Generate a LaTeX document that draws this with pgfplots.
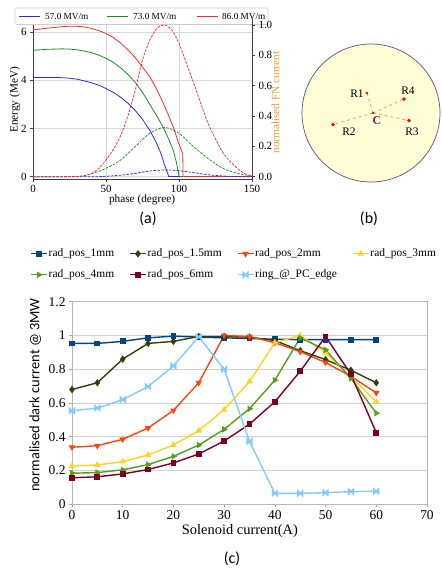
\documentclass[border=0pt]{standalone}
\usepackage{fontspec}
\setmainfont{Liberation Serif}
\newfontfamily\carlito{Carlito}
\usepackage{pgfplots}
\pgfplotsset{compat=1.18}
\definecolor{mblue}{RGB}{40,40,255}
\definecolor{mgreen}{RGB}{30,140,30}
\definecolor{mred}{RGB}{255,40,40}
\definecolor{fnorange}{HTML}{F39A32}
\definecolor{cA}{HTML}{004586}
\definecolor{cB}{HTML}{314004}
\definecolor{cC}{HTML}{FF420E}
\definecolor{cD}{HTML}{FFD320}
\definecolor{cE}{HTML}{579D1C}
\definecolor{cF}{HTML}{7E0021}
\definecolor{cG}{HTML}{83CAFF}
\definecolor{circfill}{HTML}{FFFDD6}
\definecolor{circdraw}{HTML}{6B4E7A}
\definecolor{dashor}{HTML}{F5A040}
\definecolor{cpurple}{HTML}{7A2050}
\pgfdeclareplotmark{bowtie}{%
  \pgfpathmoveto{\pgfqpoint{-\pgfplotmarksize}{\pgfplotmarksize}}%
  \pgfpathlineto{\pgfqpoint{0pt}{0pt}}%
  \pgfpathlineto{\pgfqpoint{-\pgfplotmarksize}{-\pgfplotmarksize}}%
  \pgfpathclose
  \pgfpathmoveto{\pgfqpoint{\pgfplotmarksize}{\pgfplotmarksize}}%
  \pgfpathlineto{\pgfqpoint{0pt}{0pt}}%
  \pgfpathlineto{\pgfqpoint{\pgfplotmarksize}{-\pgfplotmarksize}}%
  \pgfpathclose
  \pgfusepathqfillstroke}

\begin{document}
\begin{tikzpicture}
\path[use as bounding box] (0,0) rectangle (442bp,-568bp);

% ---------------- panel (a): energy ----------------
\begin{axis}[
  scale only axis, width=219bp, height=160bp,
  at={(33bp,-179bp)}, anchor=south west,
  xmin=0, xmax=150, ymin=-0.1, ymax=6.55,
  xtick={0,50,100,150}, ytick={0,2,4,6},
  xtick pos=left, ytick pos=left,
  tick align=outside, major tick length=3bp,
  grid=major, grid style={black!15, line width=0.5bp},
  axis line style={black!75, line width=0.6bp},
  tick style={black!75, line width=0.6bp},
  /pgf/number format/assume math mode=true,
  tick label style={font=\fontsize{11}{12}\selectfont},
  label style={font=\fontsize{11.3}{12}\selectfont},
  xlabel={phase (degree)}, ylabel={Energy (MeV)},
  xlabel style={at={(axis description cs:0.498,-0.131)}, anchor=center},
  ylabel style={at={(axis description cs:-0.082,0.494)}, anchor=center},
  every axis plot/.append style={line width=0.8bp},
]
\addplot[mblue, no markers] coordinates {
(0,4.12) (5,4.12) (10,4.12) (15,4.12) (20,4.11) (25,4.09) (30,4.05) (35,3.98)
(40,3.9) (45,3.8) (50,3.66) (55,3.5) (60,3.3) (65,3.05) (70,2.75) (75,2.38)
(80,1.92) (85,1.35) (88,0.9) (90,0.5) (92,0.18) (93,0) (150,0)};
\addplot[mgreen, no markers] coordinates {
(0,5.25) (5,5.27) (10,5.29) (15,5.3) (20,5.31) (25,5.3) (30,5.27) (35,5.22)
(40,5.15) (45,5.05) (50,4.92) (55,4.75) (60,4.52) (65,4.25) (70,3.92) (75,3.5)
(80,3.0) (85,2.5) (90,1.95) (93,1.55) (96,1.1) (98,0.65) (99.5,0.2) (100,0) (150,0)};
\addplot[mred, no markers] coordinates {
(0,6.1) (5,6.13) (10,6.17) (15,6.2) (20,6.23) (25,6.25) (30,6.25) (35,6.22)
(40,6.16) (45,6.07) (50,5.95) (55,5.78) (60,5.55) (65,5.27) (70,4.95) (75,4.55)
(80,4.15) (85,3.6) (90,2.95) (96,2.08) (100,1.35) (102.6,0.95) (102.8,0) (150,0)};
\end{axis}

% ---------------- panel (b), legend (a) and captions (overlay in pixel units) ----------------
\begin{axis}[
  scale only axis, width=442bp, height=568bp,
  at={(0bp,-568bp)}, anchor=south west,
  xmin=0, xmax=442, ymin=0, ymax=568, y dir=reverse,
  hide axis, clip=false,
]
% legend of (a)
\draw[black!20, fill=white, rounded corners=1.5bp, line width=0.6bp]
  (axis cs:15,8) rectangle (axis cs:268,24.5);
\draw[mblue, line width=0.9bp] (axis cs:19,16.2) -- (axis cs:40,16.2);
\draw[mgreen, line width=0.9bp] (axis cs:107,16.2) -- (axis cs:128,16.2);
\draw[mred, line width=0.9bp] (axis cs:197,16.2) -- (axis cs:218,16.2);
\node[anchor=west, inner sep=0pt, font=\fontsize{9.3}{10}\selectfont] at (axis cs:45,16.2) {57.0 MV/m};
\node[anchor=west, inner sep=0pt, font=\fontsize{9.3}{10}\selectfont] at (axis cs:133,16.2) {73.0 MV/m};
\node[anchor=west, inner sep=0pt, font=\fontsize{9.3}{10}\selectfont] at (axis cs:222,16.2) {86.0 MV/m};
% panel (b)
\draw[circdraw, fill=circfill, line width=0.7bp] (axis cs:371,113) circle[radius=69bp];
\addplot[dashor, dashed, line width=0.8bp, no markers] coordinates {(373,113) (367,93)};
\addplot[dashor, dashed, line width=0.8bp, no markers] coordinates {(373,113) (404,99)};
\addplot[dashor, dashed, line width=0.8bp, no markers] coordinates {(373,113) (333,124.5)};
\addplot[dashor, dashed, line width=0.8bp, no markers] coordinates {(373,113) (409,120.5)};
\addplot[only marks, red, mark=*, mark size=1.1bp] coordinates {(367,93)};
\addplot[only marks, red, mark=*, mark size=1.5bp] coordinates {(404,99) (333,124.5) (409,120.5)};
\addplot[only marks, cpurple, mark=*, mark size=0.8bp] coordinates {(373,113)};
\node[font=\fontsize{11.5}{12}\selectfont] at (axis cs:357,94) {R1};
\node[font=\fontsize{11.5}{12}\selectfont] at (axis cs:408,91) {R4};
\node[font=\fontsize{11.5}{12}\selectfont] at (axis cs:349,132) {R2};
\node[font=\fontsize{11.5}{12}\selectfont] at (axis cs:412,132) {R3};
\node[font=\bfseries\fontsize{12}{12}\selectfont, text=cpurple] at (axis cs:377,121) {C};
\node[font=\carlito\fontsize{16}{18}\selectfont] at (axis cs:148,219) {(a)};
\node[font=\carlito\fontsize{16}{18}\selectfont] at (axis cs:369,219) {(b)};
\node[font=\carlito\fontsize{16}{18}\selectfont] at (axis cs:232,559) {(c)};
\end{axis}

% ---------------- panel (a): FN current (right axis) ----------------
\begin{axis}[
  scale only axis, width=219bp, height=160bp,
  at={(33bp,-179bp)}, anchor=south west,
  xmin=0, xmax=150, ymin=-0.015, ymax=1.04,
  axis x line=none, axis y line*=right,
  ytick={0,0.2,0.4,0.6,0.8,1},
  yticklabels={0.0,0.2,0.4,0.6,0.8,1.0},
  tick align=outside, major tick length=3bp,
  axis line style={black!75, line width=0.6bp},
  tick style={black!75, line width=0.6bp},
  tick label style={font=\fontsize{11}{12}\selectfont},
  ylabel={normalised FN current},
  ylabel style={at={(axis description cs:1.107,0.478)}, anchor=center,
    font=\fontsize{11.3}{12}\selectfont, text=fnorange},
  every axis plot/.append style={line width=0.75bp, dash pattern=on 2.6bp off 1.3bp},
]
\addplot[mblue, no markers, smooth] coordinates {
(0,0) (40,0) (50,0.003) (60,0.01) (70,0.022) (80,0.038) (90,0.045) (100,0.04)
(110,0.027) (120,0.013) (130,0.005) (140,0.001) (150,0)};
\addplot[mgreen, no markers, smooth] coordinates {
(0,0) (30,0.002) (40,0.02) (50,0.055) (60,0.11) (70,0.198) (80,0.286) (90,0.325)
(100,0.286) (110,0.198) (120,0.12) (130,0.055) (140,0.022) (150,0.004)};
\addplot[mred, no markers, smooth] coordinates {
(0,0) (30,0.002) (35,0.007) (40,0.02) (45,0.055) (50,0.11) (55,0.18) (60,0.27)
(65,0.40) (70,0.57) (75,0.77) (80,0.90) (85,0.98) (90,1.0) (95,0.97) (100,0.88)
(105,0.75) (110,0.62) (115,0.48) (120,0.35) (125,0.25) (130,0.16) (135,0.10)
(140,0.055) (145,0.02) (150,0.005)};
\end{axis}

% ---------------- panel (c) ----------------
\begin{axis}[
  scale only axis, width=355bp, height=202.6bp,
  at={(72bp,-504.3bp)}, anchor=south west,
  xmin=0, xmax=70, ymin=0, ymax=1.2,
  xtick={0,10,20,30,40,50,60,70},
  ytick={0,0.2,0.4,0.6,0.8,1,1.2},
  yticklabels={0,0.2,0.4,0.6,0.8,1,1.2},
  xtick pos=left, ytick pos=left,
  tick align=outside, major tick length=3bp,
  ymajorgrids, grid style={black!18, line width=0.6bp},
  axis line style={black!28, line width=0.6bp},
  tick style={black!35, line width=0.6bp},
  /pgf/number format/assume math mode=true,
  tick label style={font=\fontsize{13.5}{14}\selectfont},
  xlabel={Solenoid current(A)},
  xlabel style={font=\fontsize{14.5}{15}\selectfont, at={(axis description cs:0.473,-0.132)}, anchor=center},
  ylabel={normalised dark current @ 3MW},
  ylabel style={font=\carlito\fontsize{14.5}{15}\selectfont, at={(axis description cs:-0.104,0.54)}, anchor=center},
  every axis plot/.append style={line width=1.4bp, mark size=2.4bp, mark options={solid}},
  legend columns=4,
  legend cell align=left,
  legend style={at={(rel axis cs:-0.118,1.272)}, anchor=north west,
    draw=none, fill=none, font=\fontsize{11.5}{12}\selectfont,
    inner sep=0bp,
    nodes={inner sep=1bp, text height=9bp, text depth=3bp},
    row sep=7bp,
    /tikz/every even column/.append style={column sep=14bp}},
  legend image code/.code={\draw[mark repeat=2, mark phase=2, #1] plot coordinates {(0bp,0bp) (8bp,0bp) (16bp,0bp)};},
]
\addplot[cA, mark=square*, mark size=2.2bp] coordinates {
(0,0.953) (5,0.953) (10,0.965) (15,0.986) (20,0.996) (25,0.99) (30,0.986)
(35,0.982) (40,0.978) (45,0.975) (50,0.975) (55,0.975) (60,0.975)};
\addlegendentry{rad\_pos\_1mm}
\addplot[cB, mark=diamond*, mark size=2.6bp] coordinates {
(0,0.68) (5,0.72) (10,0.86) (15,0.953) (20,0.965) (25,0.994) (30,0.994)
(35,0.99) (40,0.97) (45,0.91) (50,0.857) (55,0.794) (60,0.72)};
\addlegendentry{rad\_pos\_1.5mm}
\addplot[cC, mark=triangle*, mark options={rotate=180}] coordinates {
(0,0.338) (5,0.347) (10,0.385) (15,0.452) (20,0.556) (25,0.72) (30,1.0)
(35,0.994) (40,0.957) (45,0.904) (50,0.84) (55,0.758) (60,0.66)};
\addlegendentry{rad\_pos\_2mm}
\addplot[cD, mark=triangle*] coordinates {
(0,0.226) (5,0.233) (10,0.253) (15,0.292) (20,0.351) (25,0.436) (30,0.56)
(35,0.727) (40,0.957) (45,1.0) (50,0.898) (55,0.754) (60,0.607)};
\addlegendentry{rad\_pos\_3mm}
\addplot[cE, mark=triangle*, mark options={rotate=-90}] coordinates {
(0,0.184) (5,0.188) (10,0.204) (15,0.235) (20,0.284) (25,0.351) (30,0.444)
(35,0.566) (40,0.735) (45,0.986) (50,0.915) (55,0.746) (60,0.54)};
\addlegendentry{rad\_pos\_4mm}
\addplot[cF, mark=square*, mark size=2.2bp] coordinates {
(0,0.157) (5,0.163) (10,0.18) (15,0.206) (20,0.245) (25,0.298) (30,0.375)
(35,0.475) (40,0.607) (45,0.788) (50,0.994) (55,0.77) (60,0.424)};
\addlegendentry{rad\_pos\_6mm}
\addplot[cG, mark=bowtie, mark size=2.4bp] coordinates {
(0,0.554) (5,0.57) (10,0.62) (15,0.697) (20,0.82) (25,0.992) (30,0.8)
(35,0.373) (40,0.065) (45,0.065) (50,0.069) (55,0.075) (60,0.077)};
\addlegendentry{ring\_@\_PC\_edge}
\end{axis}
\end{tikzpicture}
\end{document}
